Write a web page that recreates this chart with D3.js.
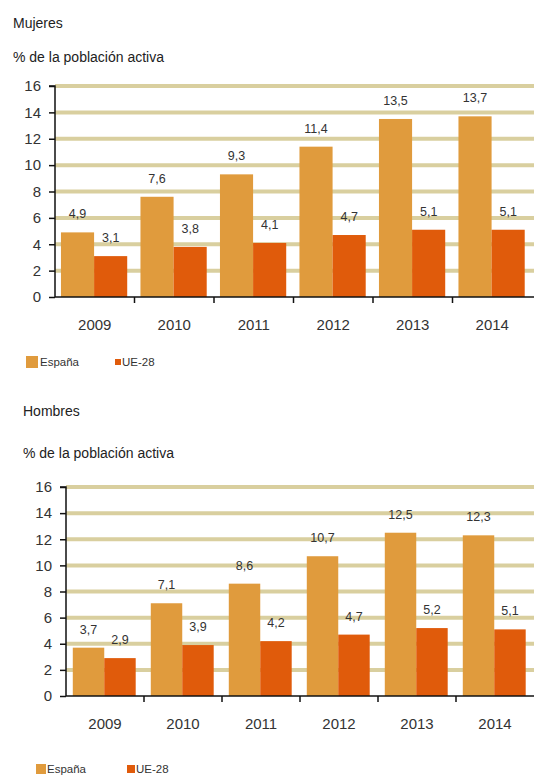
<!DOCTYPE html>
<html>
<head>
<meta charset="utf-8">
<script src="https://cdn.jsdelivr.net/npm/d3@7"></script>
<style>
  body { margin: 0; background: #fff; }
  svg { display: block; font-family: "Liberation Sans", Arial, sans-serif; }
  .grid line { stroke: #d9cf9f; stroke-width: 4; }
  .axis path, .axis line { stroke: #111; stroke-width: 1.5; }
  .axis text { fill: #333; font-size: 15px; }
  .val { fill: #333; font-size: 12.5px; text-anchor: middle; }
  .title { fill: #222; font-size: 14px; }
  .leg { fill: #333; font-size: 11.5px; }
</style>
</head>
<body>
<div id="chart"></div>
<script>
// data
var years = ['2009', '2010', '2011', '2012', '2013', '2014'];
var series = ['España', 'UE-28'];
var mujeresEspana = [4.9, 7.6, 9.3, 11.4, 13.5, 13.7];
var mujeresUE = [3.1, 3.8, 4.1, 4.7, 5.1, 5.1];
var hombresEspana = [3.7, 7.1, 8.6, 10.7, 12.5, 12.3];
var hombresUE = [2.9, 3.9, 4.2, 4.7, 5.2, 5.1];
var yTicks = [0, 2, 4, 6, 8, 10, 12, 14, 16];

var colors = { 'España': '#e09b3d', 'UE-28': '#e05b0b' };

var svgWidth = 534;
var svgHeight = 780;

var svg = d3.select('#chart')
    .append('svg')
    .attr('width', svgWidth)
    .attr('height', svgHeight);

svg.append('rect')
    .attr('width', svgWidth)
    .attr('height', svgHeight)
    .attr('fill', '#fff');

function fmt(v) {
    return String(v).replace('.', ',');
}

// one chart panel
function drawPanel(cfg) {
    var g = svg.append('g');

    g.append('text').attr('class', 'title')
        .attr('x', cfg.titleX).attr('y', cfg.titleY)
        .text(cfg.title);
    g.append('text').attr('class', 'title')
        .attr('x', cfg.titleX).attr('y', cfg.subY)
        .text('% de la población activa');

    var yScale = d3.scaleLinear()
        .domain([0, 16])
        .range([cfg.bottom, cfg.top]);

    var xScale = d3.scaleBand()
        .domain(years)
        .range([cfg.left, cfg.right]);

    var xInner = d3.scaleBand()
        .domain(series)
        .range([0, xScale.bandwidth()])
        .paddingOuter(cfg.pad)
        .align(0.45);

    // gridlines
    g.append('g').attr('class', 'grid')
        .selectAll('line')
        .data(yTicks.filter(function(d) { return d > 0; }))
        .enter()
        .append('line')
        .attr('x1', cfg.left)
        .attr('x2', svgWidth)
        .attr('y1', function(d) { return yScale(d); })
        .attr('y2', function(d) { return yScale(d); });

    var rows = years.map(function(y, i) {
        return { year: y, vals: [
            { s: 'España', v: cfg.esp[i] },
            { s: 'UE-28', v: cfg.ue[i] }
        ] };
    });

    var groups = g.selectAll('.yr')
        .data(rows)
        .enter()
        .append('g')
        .attr('transform', function(d) { return 'translate(' + xScale(d.year) + ',0)'; });

    groups.selectAll('rect')
        .data(function(d) { return d.vals; })
        .enter()
        .append('rect')
        .attr('x', function(d) { return xInner(d.s); })
        .attr('width', xInner.bandwidth())
        .attr('y', function(d) { return yScale(d.v); })
        .attr('height', function(d) { return cfg.bottom - yScale(d.v); })
        .attr('fill', function(d) { return colors[d.s]; });

    groups.selectAll('.val')
        .data(function(d) { return d.vals; })
        .enter()
        .append('text')
        .attr('class', 'val')
        .attr('x', function(d) { return xInner(d.s) + xInner.bandwidth() / 2; })
        .attr('y', function(d) { return yScale(d.v) - 14; })
        .text(function(d) { return fmt(d.v); });

    // axes
    var leftAxis = d3.axisLeft(yScale)
        .tickValues(yTicks)
        .tickSize(6)
        .tickPadding(8);
    g.append('g').attr('class', 'axis')
        .attr('transform', 'translate(' + cfg.left + ',0)')
        .call(leftAxis)
        .call(function(a) { a.select('.domain').attr('d', 'M-6,' + cfg.top + 'H0V' + cfg.bottom); });

    var bottomAxis = d3.axisBottom(xScale).tickSize(0).tickPadding(22);
    var xAxis = g.append('g').attr('class', 'axis')
        .attr('transform', 'translate(0,' + cfg.bottom + ')')
        .call(bottomAxis);
    xAxis.select('.domain').attr('d', 'M' + cfg.left + ',0H' + svgWidth);
    // boundary ticks between categories
    xAxis.selectAll('.sep')
        .data(years.slice(1))
        .enter()
        .append('line')
        .attr('x1', function(d) { return xScale(d); })
        .attr('x2', function(d) { return xScale(d); })
        .attr('y1', 0).attr('y2', 6)
        .attr('stroke', '#111').attr('stroke-width', 1.5);

    // legend
    var lg = g.append('g');
    cfg.legend.forEach(function(l) {
        lg.append('rect')
            .attr('x', l.x).attr('y', cfg.legY - l.size / 2)
            .attr('width', l.size).attr('height', l.size)
            .attr('fill', colors[l.s]);
        lg.append('text').attr('class', 'leg')
            .attr('x', l.tx).attr('y', cfg.legY + 4)
            .text(l.s);
    });
}

drawPanel({
    title: 'Mujeres', titleX: 13, titleY: 28, subY: 62,
    left: 55, right: 532, top: 86, bottom: 297, pad: 0.2,
    esp: mujeresEspana, ue: mujeresUE,
    legY: 362,
    legend: [
        { s: 'España', x: 26, size: 12, tx: 40 },
        { s: 'UE-28', x: 115, size: 6, tx: 122 }
    ]
});

drawPanel({
    title: 'Hombres', titleX: 23, titleY: 416, subY: 458,
    left: 66, right: 534, top: 487, bottom: 696, pad: 0.24,
    esp: hombresEspana, ue: hombresUE,
    legY: 769,
    legend: [
        { s: 'España', x: 36, size: 10, tx: 47 },
        { s: 'UE-28', x: 127, size: 8, tx: 136 }
    ]
});
</script>
</body>
</html>
